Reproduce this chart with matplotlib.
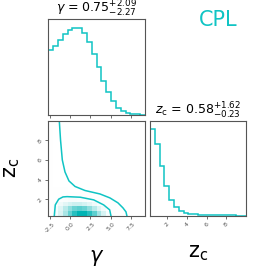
import numpy as np
import matplotlib
matplotlib.use("Agg")
import matplotlib.pyplot as plt
from matplotlib.colors import LinearSegmentedColormap

color = "#10c4c4"

# axis ranges
gamma_range = (-2.71, 9.23)
zc_range = (0.31, 9.95)
nbins = 20

# marginal histograms (relative heights, 20 bins each)
gamma_hist = [195, 207, 225, 242, 255, 262, 260, 247, 220, 183,
              143, 103, 70, 42, 22, 12, 7, 3, 2, 1]
zc_hist = [259, 215, 150, 90, 47, 26, 15, 10, 7, 5,
           4, 3, 3, 2, 2, 2, 2, 2, 1, 1]

# 2d density, rows = zc bins from bottom, cols = gamma bins from left
density_rows = [
    [0.08, 0.20, 0.38, 0.58, 0.78, 0.92, 1.00, 1.00, 0.92, 0.80, 0.60, 0.40, 0.18, 0.06],
    [0.07, 0.18, 0.35, 0.52, 0.66, 0.76, 0.80, 0.76, 0.66, 0.52, 0.36, 0.22, 0.10, 0.03],
    [0.05, 0.12, 0.24, 0.33, 0.40, 0.44, 0.44, 0.40, 0.33, 0.24, 0.15, 0.08, 0.04, 0.01],
    [0.04, 0.08, 0.12, 0.15, 0.17, 0.17, 0.16, 0.13, 0.10, 0.06, 0.04, 0.02, 0.00, 0.00],
    [0.03, 0.05, 0.06, 0.06, 0.06, 0.05, 0.04, 0.03, 0.01, 0.00, 0.00, 0.00, 0.00, 0.00],
    [0.03, 0.02, 0.01, 0.01, 0.00, 0.00, 0.00, 0.00, 0.00, 0.00, 0.00, 0.00, 0.00, 0.00],
]
faint_col = 0.025  # faint tail at small gamma, large zc

# contour lines (gamma, zc)
outer_gamma = [-1.40, -1.35, -1.20, -0.98, -0.65, -0.16, 0.59, 1.82, 3.67, 4.90, 5.89, 6.51, 6.88, 7.00, 7.02]
outer_zc = [10.5, 9.92, 8.00, 5.98, 4.77, 3.86, 3.30, 2.89, 2.54, 2.14, 1.64, 1.13, 0.73, 0.31, 0.10]
inner_gamma = [-1.98, -1.97, -1.85, -1.43, -0.90, -0.40, 1.24, 2.90, 4.13, 4.87, 5.03, 5.05]
inner_zc = [0.10, 0.31, 1.43, 2.01, 2.24, 2.27, 2.21, 1.94, 1.43, 0.93, 0.31, 0.10]

gamma_ticks = [-2.5, 0.0, 2.5, 5.0, 7.5]
zc_ticks = [2, 4, 6, 8]

title_gamma = r"$\gamma$ = $0.75_{-2.27}^{+2.09}$"
title_zc = r"$z_{\rm c}$ = $0.58_{-0.23}^{+1.62}$"

plt.rcParams["axes.edgecolor"] = "#555555"
plt.rcParams["axes.linewidth"] = 0.8

fig = plt.figure(figsize=(2.66, 2.66), dpi=100)
ax_g = fig.add_axes([0.1816, 0.5677, 0.3635, 0.361])
ax_2d = fig.add_axes([0.1816, 0.188, 0.3635, 0.358])
ax_z = fig.add_axes([0.564, 0.188, 0.36, 0.358])

g_edges = np.linspace(gamma_range[0], gamma_range[1], nbins + 1)
z_edges = np.linspace(zc_range[0], zc_range[1], nbins + 1)

# top-left histogram
ax_g.stairs(gamma_hist, g_edges, color=color, lw=1.1)
ax_g.set_xlim(gamma_range)
ax_g.set_ylim(0, 1.1 * max(gamma_hist))
ax_g.set_yticks([])
ax_g.set_xticks(gamma_ticks)
ax_g.set_xticklabels([])
ax_g.set_title(title_gamma, fontsize=9, pad=2)

# lower-right histogram
ax_z.stairs(zc_hist, z_edges, color=color, lw=1.1)
ax_z.set_xlim(zc_range)
ax_z.set_ylim(0, 1.1 * max(zc_hist))
ax_z.set_yticks([])
ax_z.set_xticks(zc_ticks)
ax_z.set_xticklabels([str(t) for t in zc_ticks], rotation=45, fontsize=4.5)
ax_z.set_title(title_zc, fontsize=9, pad=2)
ax_z.set_xlabel(r"$\mathrm{z_c}$", fontsize=15, labelpad=11)

# 2d panel
H = np.zeros((nbins, nbins))
for i, row in enumerate(density_rows):
    H[i, :len(row)] = row
H[6:, 0] = faint_col
cmap = LinearSegmentedColormap.from_list("dens", [(1, 1, 1, 0), "#00b4b4"])
ax_2d.pcolormesh(g_edges, z_edges, H, cmap=cmap, vmin=0, vmax=1)
ax_2d.plot(outer_gamma, outer_zc, color=color, lw=1.1)
ax_2d.plot(inner_gamma, inner_zc, color=color, lw=1.1)
ax_2d.set_xlim(gamma_range)
ax_2d.set_ylim(zc_range)
ax_2d.set_xticks(gamma_ticks)
ax_2d.set_xticklabels([f"{t:.1f}" for t in gamma_ticks], rotation=45, fontsize=4.5)
ax_2d.set_yticks(zc_ticks)
ax_2d.set_yticklabels([str(t) for t in zc_ticks], rotation=45, fontsize=4.5)
ax_2d.set_xlabel(r"$\gamma$", fontsize=15, labelpad=10)
ax_2d.set_ylabel(r"$\mathrm{z_c}$", fontsize=15, labelpad=10)

for ax in (ax_g, ax_2d, ax_z):
    ax.tick_params(length=2, width=0.6, pad=2, colors="#555555")

fig.text(0.82, 0.925, "CPL", color=color, fontsize=15, ha="center", va="center")

fig.savefig("out.png", dpi=100)
